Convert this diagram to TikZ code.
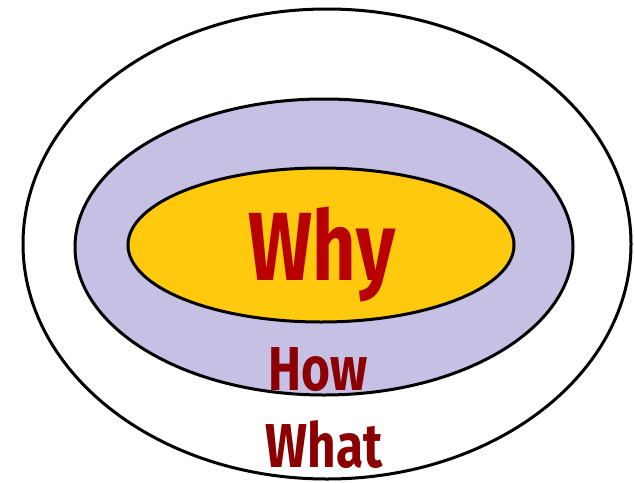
\documentclass[tikz,border=0pt]{standalone}
\usepackage{fontspec}
\setmainfont{Fira Sans}
\definecolor{whyred}{HTML}{B80000}
\definecolor{howred}{HTML}{8B0000}
\definecolor{gold}{HTML}{FFC90E}
\definecolor{lav}{HTML}{C6C0E4}
\begin{document}
\begin{tikzpicture}[x=1pt,y=-1pt,
  ring/.style={draw=black,line width=3pt},
  lbl/.style={font=\bfseries,inner sep=0pt,anchor=base}]
\useasboundingbox (0,0) rectangle (634,482);
\fill[white] (0,0) rectangle (634,482);
\draw[ring,fill=white] (327,244) ellipse [x radius=304,y radius=235];
\draw[ring,fill=lav] (324,247) ellipse [x radius=249,y radius=148];
\draw[ring,fill=gold] (321,245) ellipse [x radius=193,y radius=77];
\node[lbl,text=whyred,font=\bfseries\fontsize{97}{97}\selectfont,xscale=0.78] (why) at (322,280) {Why};
\node[lbl,text=howred,font=\bfseries\fontsize{62}{62}\selectfont,xscale=0.8] (how) at (318,390) {How};
\node[lbl,text=howred,font=\bfseries\fontsize{62}{62}\selectfont,xscale=0.8] (what) at (324,467) {What};
\end{tikzpicture}
\end{document}
